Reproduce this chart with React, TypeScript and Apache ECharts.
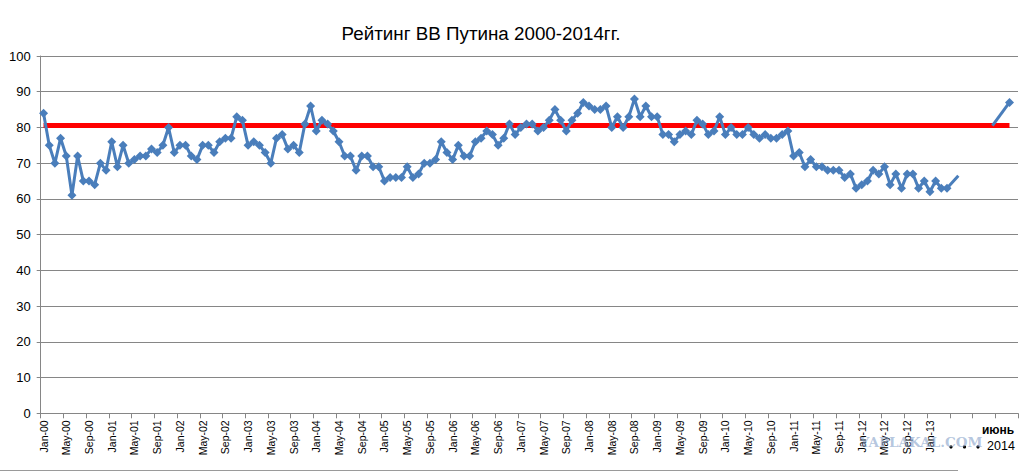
import React, { useEffect, useRef } from "react";
import * as echarts from "echarts";

const monthNames = ["Jan", "Feb", "Mar", "Apr", "May", "Jun", "Jul", "Aug", "Sep", "Oct", "Nov", "Dec"];
const years = ["00", "01", "02", "03", "04", "05", "06", "07", "08", "09", "10", "11", "12", "13", "14"];
const categoryCount = 172; // Jan-00 .. Apr-14
const labelLastIndex = 156; // Jan-13 is the last printed label

const ratings2000to2013 = [
  84, 75, 70, 77, 72, 61, 72, 65, 65, 64, 70, 68,
  76, 69, 75, 70, 71, 72, 72, 74, 73, 75, 80, 73,
  75, 75, 72, 71, 75, 75, 73, 76, 77, 77, 83, 82,
  75, 76, 75, 73, 70, 77, 78, 74, 75, 73, 81, 86,
  79, 82, 81, 79, 76, 72, 72, 68, 72, 72, 69, 69,
  65, 66, 66, 66, 69, 66, 67, 70, 70, 71, 76, 73,
  71, 75, 72, 72, 76, 77, 79, 78, 75, 77, 81, 78,
  80, 81, 81, 79, 80, 82, 85, 82, 79, 82, 84, 87,
  86, 85, 85, 86, 80, 83, 80, 83, 88, 83, 86, 83,
  83, 78, 78, 76, 78, 79, 78, 82, 81, 78, 79, 83,
  78, 80, 78, 78, 80, 78, 77, 78, 77, 77, 78, 79,
  72, 73, 69, 71, 69, 69, 68, 68, 68, 66, 67, 63,
  64, 65, 68, 67, 69, 64, 67, 63, 67, 67, 63, 65,
  62, 65, 63, 63,
];
const cutEndIndex = 161;
const cutEndValue = 66.5;
const tailPoints: [number, number][] = [
  [167, 80.5],
  [170, 87],
];
const redLevel = 80.6;
const redLineStart = 0;
const redLineEnd = 170;
const yTicks = { min: 0, max: 100, interval: 10 };
const titleText = "Рейтинг ВВ Путина 2000-2014гг.";
const endLabelTop = "июнь";
const endLabelBottom = "2014";
const watermark = "YAPLAKAL.COM";

const categories: string[] = [];
for (let i = 0; i < categoryCount; i++) {
  categories.push(monthNames[i % 12] + "-" + years[Math.floor(i / 12)]);
}

export default function App() {
  const ref = useRef<HTMLDivElement>(null);
  useEffect(() => {
    if (!ref.current) return;
    const chart = echarts.init(ref.current, null, { renderer: "svg" });

    const mainData: any[] = ratings2000to2013.map((v, i) => [i, v]);
    mainData.push({ value: [cutEndIndex, cutEndValue], symbol: "none" });
    const tailData: any[] = tailPoints.map((p, k) =>
      k === 0 ? { value: p, symbol: "none" } : { value: p }
    );

    const lineColor = "#4A7EBB";
    const gridColor = "#868686";
    const font = "'Liberation Sans', Arial, sans-serif";

    chart.setOption({
      animation: false,
      backgroundColor: "#ffffff",
      textStyle: { fontFamily: font },
      grid: { left: 40.7, right: 2, top: 56, bottom: 59.7, containLabel: false },
      xAxis: {
        type: "category",
        data: categories,
        boundaryGap: true,
        axisLine: { show: true, lineStyle: { color: gridColor, width: 1 } },
        axisTick: { show: true, interval: 3, length: 5, lineStyle: { color: gridColor } },
        axisLabel: {
          interval: 3,
          rotate: 90,
          fontSize: 10.5,
          color: "#000",
          margin: 7,
          fontFamily: font,
          formatter: (val: string, idx: number) => (idx <= labelLastIndex ? val : ""),
        },
        splitLine: { show: false },
      },
      yAxis: {
        type: "value",
        min: yTicks.min,
        max: yTicks.max,
        interval: yTicks.interval,
        axisLine: { show: true, lineStyle: { color: gridColor, width: 1 } },
        axisTick: { show: true, length: 4, lineStyle: { color: gridColor } },
        axisLabel: { fontSize: 13, color: "#000", margin: 10, fontFamily: font },
        splitLine: { show: true, lineStyle: { color: gridColor, width: 1 } },
      },
      title: {
        text: titleText,
        left: 476,
        top: 19,
        textAlign: "center",
        textStyle: { fontSize: 18.8, fontWeight: "normal", color: "#000", fontFamily: font },
      },
      series: [
        {
          type: "line",
          data: mainData,
          connectNulls: true,
          showAllSymbol: true,
          symbol: "diamond",
          symbolSize: 9,
          lineStyle: { color: lineColor, width: 3 },
          itemStyle: { color: lineColor },
          z: 3,
        },
        {
          type: "line",
          data: tailData,
          showAllSymbol: true,
          symbol: "diamond",
          symbolSize: 9,
          lineStyle: { color: lineColor, width: 3 },
          itemStyle: { color: lineColor },
          z: 3,
          markLine: {
            silent: true,
            symbol: "none",
            label: { show: false },
            lineStyle: { color: "#FF0000", width: 5, type: "solid" },
            data: [[{ coord: [redLineStart, redLevel] }, { coord: [redLineEnd, redLevel] }]],
            z: 2,
          },
        },
      ],
      graphic: [
        {
          type: "line",
          shape: { x1: 0, y1: 470.5, x2: 958, y2: 470.5 },
          style: { stroke: "#9a9a9a", lineWidth: 1 },
        },
        { type: "circle", shape: { cx: 951, cy: 447, r: 1.6 }, style: { fill: "#000" } },
        { type: "circle", shape: { cx: 964.5, cy: 447, r: 1.6 }, style: { fill: "#000" } },
        { type: "circle", shape: { cx: 978, cy: 447, r: 1.6 }, style: { fill: "#000" } },
        {
          type: "text",
          x: 998,
          y: 429.5,
          style: {
            text: endLabelTop,
            font: "bold 12px 'Liberation Sans', Arial, sans-serif",
            fill: "#000",
            textAlign: "center",
            textVerticalAlign: "middle",
          },
        },
        {
          type: "text",
          x: 1001,
          y: 446,
          style: {
            text: endLabelBottom,
            font: "12.5px 'Liberation Sans', Arial, sans-serif",
            fill: "#000",
            textAlign: "center",
            textVerticalAlign: "middle",
          },
        },
        {
          type: "text",
          x: 921,
          y: 442,
          z: 100,
          style: {
            text: watermark,
            font: "bold 13.5px 'DejaVu Serif', serif",
            fill: "rgba(120,150,195,0.55)",
            textAlign: "center",
            textVerticalAlign: "middle",
          },
        },
      ],
    });
    return () => chart.dispose();
  }, []);
  return (
    <div
      ref={ref}
      style={{ position: "absolute", left: 0, top: 0, width: 1020, height: 473 }}
    />
  );
}
